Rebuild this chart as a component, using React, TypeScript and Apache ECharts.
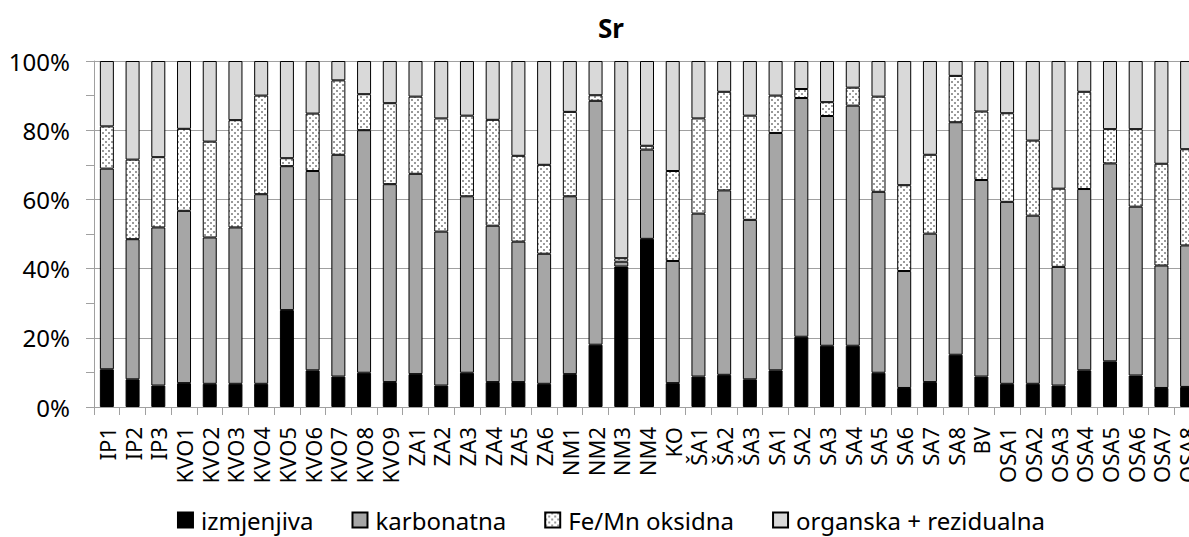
import React, { useEffect, useRef } from "react";
import * as echarts from "echarts";

const categories = [
  "IP1", "IP2", "IP3",
  "KVO1", "KVO2", "KVO3", "KVO4", "KVO5", "KVO6", "KVO7", "KVO8", "KVO9",
  "ZA1", "ZA2", "ZA3", "ZA4", "ZA5", "ZA6",
  "NM1", "NM2", "NM3", "NM4", "KO",
  "ŠA1", "ŠA2", "ŠA3",
  "SA1", "SA2", "SA3", "SA4", "SA5", "SA6", "SA7", "SA8", "BV",
  "OSA1", "OSA2", "OSA3", "OSA4", "OSA5", "OSA6", "OSA7", "OSA8",
];

const izmjenjiva = [
  10.9, 8.0, 6.2,
  6.9, 6.7, 6.7, 6.7, 28.0, 10.6, 8.8, 9.9, 7.2,
  9.5, 6.2, 9.9, 7.2, 7.2, 6.7,
  9.5, 18.0, 40.6, 48.6, 6.9,
  8.8, 9.3, 8.0,
  10.6, 20.3, 17.7, 17.7, 9.9, 5.5, 7.2, 15.1, 8.8,
  6.7, 6.7, 6.2, 10.6, 13.2, 9.1, 5.5, 5.8,
];

const karbonatna = [
  58.0, 40.5, 45.7,
  49.8, 42.3, 45.2, 54.8, 41.6, 57.6, 64.1, 70.1, 57.2,
  57.9, 44.5, 51.0, 45.2, 40.6, 37.6,
  51.4, 70.5, 1.4, 25.8, 35.3,
  47.1, 53.3, 46.1,
  68.6, 69.0, 66.4, 69.4, 52.3, 33.8, 42.9, 67.2, 56.8,
  52.6, 48.6, 34.3, 52.4, 57.2, 48.8, 35.4, 40.9,
];

const feMnOksidna = [
  12.2, 23.0, 20.3,
  23.7, 27.7, 31.0, 28.5, 2.3, 16.6, 21.5, 10.4, 23.4,
  22.3, 32.7, 23.3, 30.6, 24.8, 25.7,
  24.4, 1.6, 1.0, 1.1, 26.0,
  27.5, 28.5, 30.1,
  10.8, 2.6, 4.0, 5.2, 27.5, 24.8, 22.8, 13.4, 19.8,
  25.6, 21.7, 22.6, 28.1, 9.9, 22.4, 29.4, 27.8,
];

const organskaRezidualna = [
  18.9, 28.5, 27.8,
  19.6, 23.3, 17.1, 10.0, 28.1, 15.2, 5.6, 9.6, 12.2,
  10.3, 16.6, 15.8, 17.0, 27.4, 30.0,
  14.7, 9.9, 57.0, 24.5, 31.8,
  16.6, 8.9, 15.8,
  10.0, 8.1, 11.9, 7.7, 10.3, 35.9, 27.1, 4.3, 14.6,
  15.1, 23.0, 36.9, 8.9, 19.7, 19.7, 29.7, 25.5,
];

const seriesNames = ["izmjenjiva", "karbonatna", "Fe/Mn oksidna", "organska + rezidualna"];

function makeDotPattern(): string {
  const c = document.createElement("canvas");
  c.width = 6;
  c.height = 6;
  const ctx = c.getContext("2d");
  if (ctx) {
    ctx.fillStyle = "#ffffff";
    ctx.fillRect(0, 0, 6, 6);
    ctx.fillStyle = "#9a9a9a";
    ctx.fillRect(0, 0, 2, 2);
    ctx.fillRect(3, 3, 2, 2);
  }
  return c.toDataURL();
}

export default function App() {
  const ref = useRef<HTMLDivElement>(null);

  useEffect(() => {
    if (!ref.current) return;
    const chart = echarts.init(ref.current, undefined, { renderer: "svg" });
    const dotUrl = makeDotPattern();
    const fonts = "'Noto Sans', 'Open Sans', sans-serif";
    const border = { borderColor: "#000000", borderWidth: 1 };

    const mk = (name: string, data: number[], color: any) => ({
      name,
      type: "bar",
      stack: "total",
      barWidth: 14,
      data,
      itemStyle: { color, ...border },
      emphasis: { disabled: true },
    });

    chart.setOption({
      animation: false,
      textStyle: { fontFamily: fonts, color: "#000" },
      title: {
        text: "Sr",
        left: "center",
        top: 10,
        textStyle: { fontFamily: fonts, fontSize: 26, fontWeight: "bold", color: "#000" },
      },
      legend: {
        data: seriesNames,
        left: "center",
        top: 501,
        itemWidth: 15,
        itemHeight: 15,
        itemGap: 38,
        icon: "rect",
        textStyle: { fontFamily: fonts, fontSize: 24, lineHeight: 28, color: "#000", padding: [0, 0, 0, 3] },
      },
      grid: { left: 94, right: 22, top: 61, bottom: 130, containLabel: false },
      xAxis: {
        type: "category",
        data: categories,
        boundaryGap: true,
        axisLine: { show: true, lineStyle: { color: "#a0a0a0", width: 1 } },
        axisTick: { show: true, alignWithLabel: false, length: 8, lineStyle: { color: "#a0a0a0" } },
        axisLabel: {
          interval: 0,
          rotate: 90,
          margin: 20,
          fontFamily: fonts,
          fontSize: 22,
          color: "#000",
        },
      },
      yAxis: {
        type: "value",
        min: 0,
        max: 100,
        interval: 20,
        axisLine: { show: true, lineStyle: { color: "#a0a0a0", width: 1 } },
        axisTick: { show: true, length: 8, lineStyle: { color: "#a0a0a0" } },
        minorTick: { show: true, splitNumber: 2, length: 8, lineStyle: { color: "#a0a0a0" } },
        splitLine: { show: true, lineStyle: { color: "#a0a0a0", width: 1 } },
        axisLabel: {
          formatter: "{value}%",
          margin: 24,
          fontFamily: fonts,
          fontSize: 24,
          color: "#000",
        },
      },
      series: [
        mk(seriesNames[0], izmjenjiva, "#000000"),
        mk(seriesNames[1], karbonatna, "#a6a6a6"),
        mk(seriesNames[2], feMnOksidna, { image: dotUrl, repeat: "repeat" }),
        mk(seriesNames[3], organskaRezidualna, "#d9d9d9"),
      ],
    });

    return () => {
      chart.dispose();
    };
  }, []);

  return (
    <div
      style={{
        position: "fixed",
        left: 0,
        top: 0,
        width: 1189,
        height: 537,
        overflow: "hidden",
        background: "#fff",
      }}
    >
      <div ref={ref} style={{ width: 1222, height: 537 }} />
    </div>
  );
}
